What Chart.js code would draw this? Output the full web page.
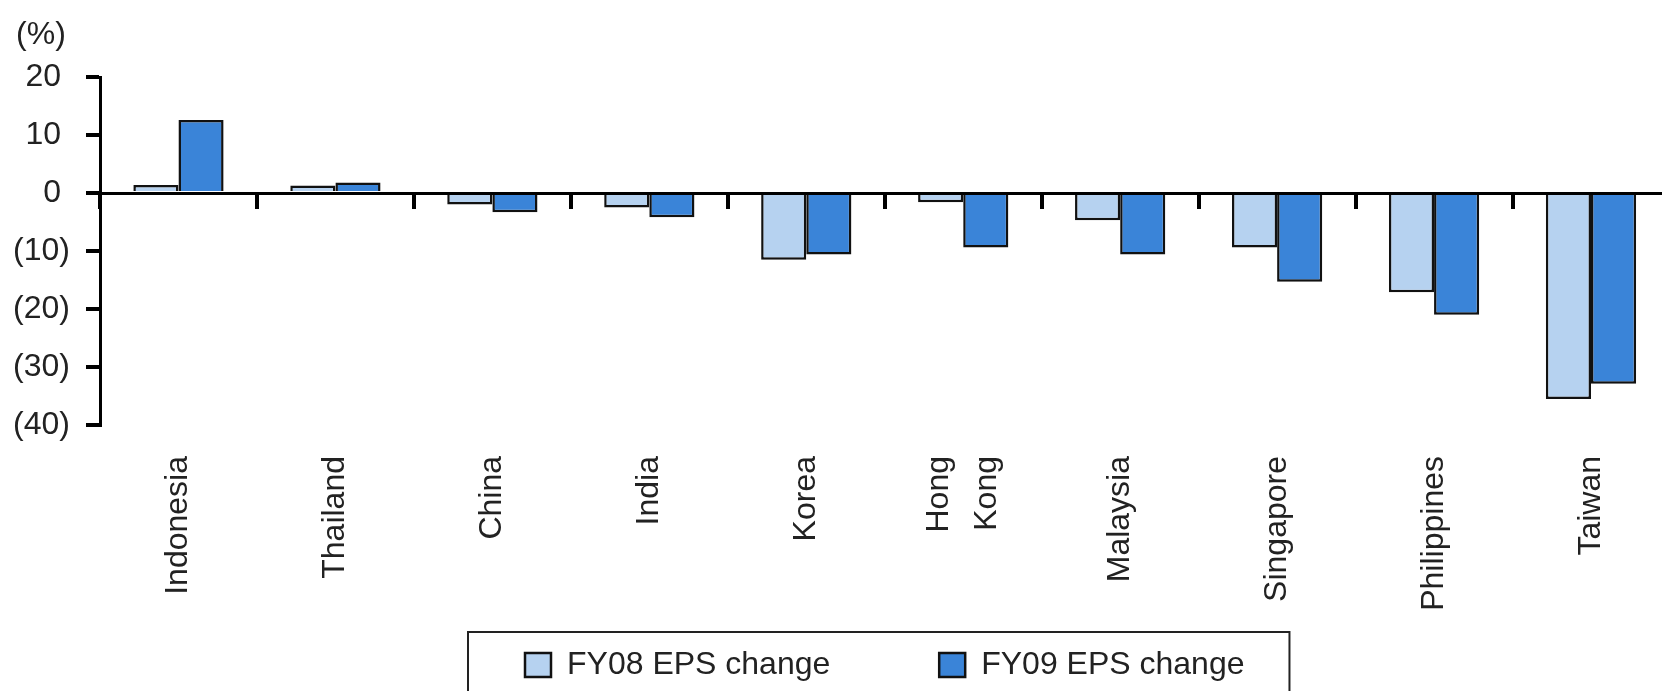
<!DOCTYPE html>
<html>
<head>
<meta charset="utf-8">
<script src="https://cdn.jsdelivr.net/npm/chart.js@4/dist/chart.umd.min.js"></script>
<style>
    html, body { margin: 0; padding: 0; background: #fff; overflow: hidden; }
    #wrap { width: 1662px; height: 691px; overflow: hidden; }
</style>
</head>
<body>
<div id="wrap"><canvas id="chart" width="1670" height="691"></canvas></div>
<script>
    const countries = ['Indonesia', 'Thailand', 'China', 'India', 'Korea', ['Hong', 'Kong'], 'Malaysia', 'Singapore', 'Philippines', 'Taiwan'];
    const fy08 = [1.4, 1.3, -2.0, -2.5, -11.5, -1.6, -4.7, -9.4, -17.1, -35.5];
    const fy09 = [12.6, 1.8, -3.3, -4.2, -10.6, -9.4, -10.6, -15.3, -21.0, -32.9];
    const yMin = -40;
    const yMax = 20;
    const yStep = 10;

    Chart.defaults.font.family = '"Liberation Sans", Arial, sans-serif';
    Chart.defaults.font.size = 32;
    Chart.defaults.color = '#222';

    const labelLineHeight = 1.5;

    // "(%)" unit above the y labels
    const unitLabel = {
        id: 'unitLabel',
        afterDraw(chart) {
            const ctx = chart.ctx;
            const area = chart.chartArea;
            ctx.save();
            ctx.fillStyle = '#222';
            ctx.font = '32px "Liberation Sans", Arial, sans-serif';
            ctx.textAlign = 'center';
            ctx.textBaseline = 'middle';
            ctx.fillText('(%)', area.left - 59, area.top - 42);
            ctx.restore();
        }
    };

    // two-line labels: centre the pair of lines on the tick (chart.js starts the first line there)
    const centreMultiline = {
        id: 'centreMultiline',
        afterLayout(chart) {
            const scale = chart.scales.x;
            const items = scale.getLabelItems(chart.chartArea);
            items.forEach((item) => {
                if (Array.isArray(item.label) && !item._centred) {
                    const lh = 32 * labelLineHeight;
                    item.options.translation[0] -= (item.label.length - 1) * lh / 2;
                    item._centred = true;
                }
            });
        }
    };

    // frame round the legend items
    const legendFrame = {
        id: 'legendFrame',
        afterDraw(chart) {
            const boxes = chart.legend.legendHitBoxes;
            if (!boxes || !boxes.length) return;
            const first = boxes[0];
            const last = boxes[boxes.length - 1];
            const left = first.left - 57;
            const right = last.left + last.width + 45;
            const ctx = chart.ctx;
            ctx.save();
            ctx.strokeStyle = '#222';
            ctx.lineWidth = 2;
            ctx.strokeRect(left, first.top - 17, right - left, 120);
            ctx.restore();
        }
    };

    // extra room after each legend text, in spaces
    const legendGaps = [10, 0];

    new Chart(document.getElementById('chart'), {
        type: 'bar',
        data: {
            labels: countries,
            datasets: [
                {
                    label: 'FY08 EPS change',
                    data: fy08,
                    backgroundColor: '#B6D2F0',
                    borderColor: '#111',
                    borderWidth: 2.5
                },
                {
                    label: 'FY09 EPS change',
                    data: fy09,
                    backgroundColor: '#3A84D8',
                    borderColor: '#111',
                    borderWidth: 2.5
                }
            ]
        },
        options: {
            responsive: false,
            animation: false,
            devicePixelRatio: 1,
            categoryPercentage: 0.575,
            barPercentage: 1,
            layout: { padding: { top: 77, left: 0, right: 0, bottom: 0 } },
            plugins: {
                tooltip: { enabled: false },
                legend: {
                    position: 'bottom',
                    fullSize: false,
                    labels: {
                        boxWidth: 26,
                        boxHeight: 24,
                        padding: 20,
                        font: { size: 32 },
                        color: '#222',
                        generateLabels(chart) {
                            const items = Chart.defaults.plugins.legend.labels.generateLabels(chart);
                            items.forEach((it, i) => {
                                it.text = it.text + ' '.repeat(legendGaps[i] || 0);
                            });
                            return items;
                        }
                    }
                }
            },
            scales: {
                x: {
                    type: 'category',
                    offset: true,
                    border: { display: false },
                    grid: { display: false, drawTicks: false, offset: true },
                    ticks: {
                        minRotation: 90,
                        maxRotation: 90,
                        padding: 31,
                        autoSkip: false,
                        color: '#222',
                        font: { size: 32, lineHeight: labelLineHeight }
                    },
                    afterFit(scale) { scale.height = 204; }
                },
                x0: {
                    type: 'category',
                    position: { y: 0 },
                    offset: true,
                    border: { display: true, color: '#000', width: 3, z: 1 },
                    grid: {
                        offset: true,
                        drawOnChartArea: false,
                        drawTicks: true,
                        tickLength: 14,
                        lineWidth: 4,
                        color: '#000'
                    },
                    ticks: { display: false }
                },
                y: {
                    min: yMin,
                    max: yMax,
                    border: { display: true, color: '#000', width: 3 },
                    grid: {
                        drawOnChartArea: false,
                        drawTicks: true,
                        tickLength: 14,
                        lineWidth: 4,
                        color: '#000'
                    },
                    ticks: {
                        stepSize: yStep,
                        padding: 16,
                        color: '#222',
                        font: { size: 32 },
                        callback: (v) => v < 0 ? '(' + (-v) + ')' : v + ' '
                    },
                    afterFit(scale) { scale.width = 100; }
                }
            }
        },
        plugins: [unitLabel, centreMultiline, legendFrame]
    });
</script>
</body>
</html>
